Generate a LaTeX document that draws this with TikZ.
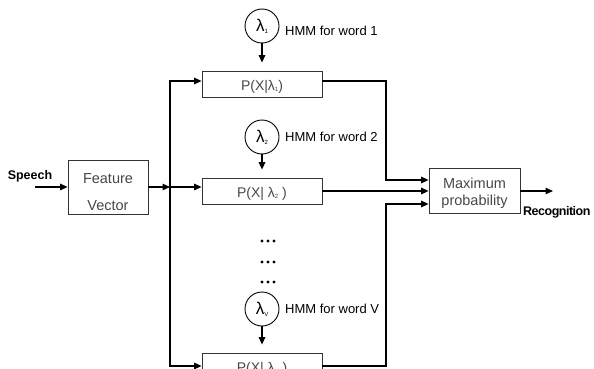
\documentclass[tikz,border=0pt]{standalone}
\usepackage{fontspec}
\setmainfont{Liberation Sans}
\usetikzlibrary{arrows.meta}
% lambda with a tiny index, as used in the model circles and likelihood boxes
\newcommand\lam[1]{λ\raisebox{-0.2ex}{\fontsize{6}{6}\selectfont #1}}
\begin{document}
\begin{tikzpicture}[x=1pt,y=-1pt,
  arr/.style={line width=1.3pt,-{Triangle[length=7.5pt,width=6.5pt]}},
  wire/.style={line width=1.3pt},
  blk/.style={draw=black!80,line width=0.8pt,inner sep=0pt,text=black!72},
  pbox/.style={blk,minimum width=120pt,minimum height=26pt,text height=14pt,text depth=2pt,
               font=\fontsize{14}{14}\selectfont},
  hmm/.style={draw=black,line width=0.9pt,circle,minimum size=34pt,inner sep=0pt,
              font=\fontsize{17}{17}\selectfont},
  lbl/.style={anchor=west,inner sep=0pt,font=\fontsize{13}{13}\selectfont},
  io/.style={inner sep=0pt,font=\bfseries\fontsize{12.5}{12.5}\selectfont}
]
\useasboundingbox (0,0) rectangle (594,369);

% input and feature extraction
\node[io] (speech) at (30,176) {Speech};
\coordinate (sin) at (35,187);
\node[blk,minimum width=80pt,minimum height=54pt,align=center,text height=46.5pt,text depth=0pt,
      font=\fontsize{14.5}{27}\selectfont] (feat) at (108,187) {Feature\\Vector};
\coordinate (split) at (170,187);

% word models and their likelihood blocks
\node[hmm] (l1) at (262,26) {\lam{1}};
\node[hmm] (l2) at (262,137) {\lam{2}};
\node[hmm] (lv) at (262,309) {\lam{V}};
\node[lbl] (h1) at (285,31) {HMM for word 1};
\node[lbl] (h2) at (285,137) {HMM for word 2};
\node[lbl] (hv) at (285,309) {HMM for word V};

\node[pbox] (p1) at (262,84) {P(X|\lam{1})};
\node[pbox] (p2) at (262,191) {P(X| \lam{2} )};
\node[pbox] (pv) at (262,366) {P(X| \lam{V} )};

% the omitted models
\foreach \y in {241,262,282}
  \foreach \x in {262,268,274}
    \fill (\x,\y) circle (1.7pt);

% decision block and output
\node[blk,minimum width=91pt,minimum height=45pt,align=center,text height=31.5pt,text depth=3pt,
      font=\fontsize{14.5}{17}\selectfont] (maxp) at (474.5,191) {Maximum\\probability};
\coordinate (out) at (553,191);
\node[io,anchor=west] (recog) at (523,212) {\addfontfeature{LetterSpace=-4}Recognition};

\coordinate (jt) at (386,180);
\coordinate (jb) at (386,204);

% connectors
\draw[arr] (sin) -- (feat);
\draw[arr] (feat) -- (split);
\draw[wire] (split |- p1) -- (split |- pv);
\draw[arr] (split) |- ([yshift=3pt]p1.west);
\draw[arr] (split) -- (p2.west |- split);
\draw[arr] (split) |- (pv.west);

\draw[arr,shorten >=8pt] (l1) -- (p1);
\draw[arr,shorten >=8pt] (l2) -- (p2);
\draw[arr,shorten >=8pt] (lv) -- (pv);

\draw[arr] ([yshift=3pt]p1.east) -| (jt) -- (maxp.west |- jt);
\draw[arr] (p2.east) -- (maxp.west |- p2.east);
\draw[arr] (pv.east) -| (jb) -- (maxp.west |- jb);
\draw[arr] (maxp) -- (out);
\end{tikzpicture}
\end{document}
